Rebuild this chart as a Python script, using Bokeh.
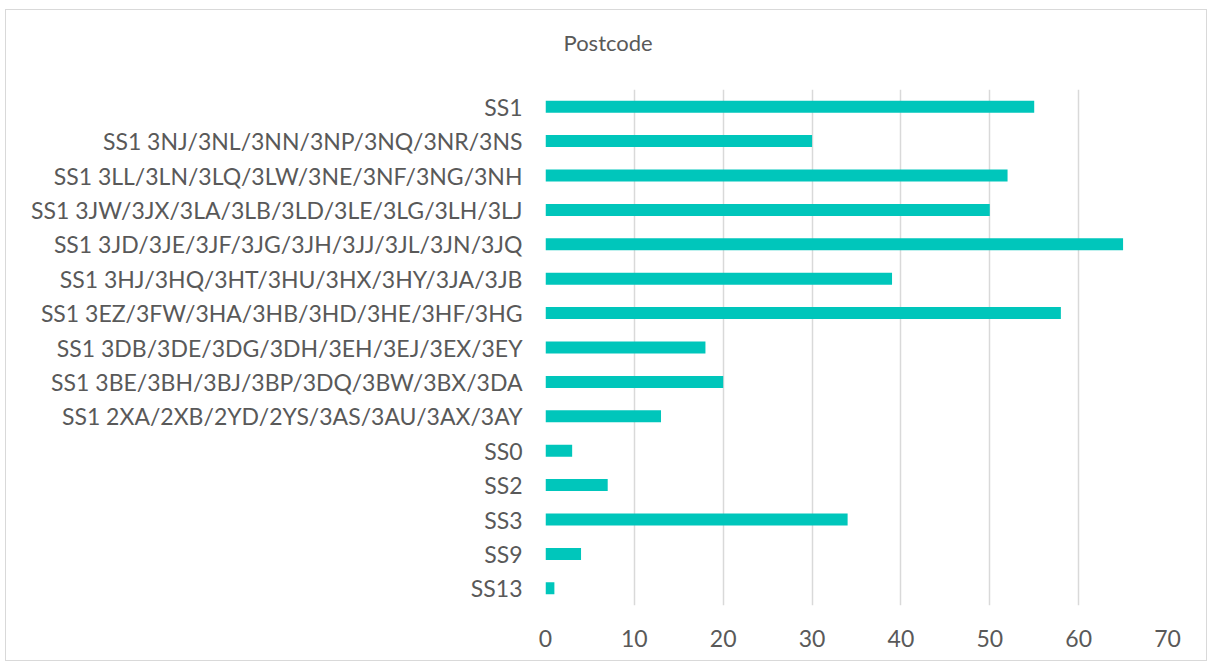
from bokeh.plotting import figure
from bokeh.models import ColumnDataSource, FactorRange, Range1d, FixedTicker, Title
from bokeh.embed import file_html
from bokeh.resources import INLINE

categories = [
    "SS1",
    "SS1 3NJ/3NL/3NN/3NP/3NQ/3NR/3NS",
    "SS1 3LL/3LN/3LQ/3LW/3NE/3NF/3NG/3NH",
    "SS1 3JW/3JX/3LA/3LB/3LD/3LE/3LG/3LH/3LJ",
    "SS1 3JD/3JE/3JF/3JG/3JH/3JJ/3JL/3JN/3JQ",
    "SS1 3HJ/3HQ/3HT/3HU/3HX/3HY/3JA/3JB",
    "SS1 3EZ/3FW/3HA/3HB/3HD/3HE/3HF/3HG",
    "SS1 3DB/3DE/3DG/3DH/3EH/3EJ/3EX/3EY",
    "SS1 3BE/3BH/3BJ/3BP/3DQ/3BW/3BX/3DA",
    "SS1 2XA/2XB/2YD/2YS/3AS/3AU/3AX/3AY",
    "SS0",
    "SS2",
    "SS3",
    "SS9",
    "SS13",
]
counts = [55, 30, 52, 50, 65, 39, 58, 18, 20, 13, 3, 7, 34, 4, 1]
x_ticks = [0, 10, 20, 30, 40, 50, 60, 70]
title_text = "Postcode"

FONT = "Lato"
TEXT_COLOR = "#595959"
BAR_COLOR = "#00C6BB"
GRID_COLOR = "#D9D9D9"

source = ColumnDataSource(data=dict(cat=categories, val=counts))

p = figure(
    width=1202,
    height=652,
    y_range=FactorRange(factors=list(reversed(categories)), range_padding=0),
    x_range=Range1d(0, 70),
    output_backend="svg",
    toolbar_location=None,
    min_border_left=539,
    min_border_right=41,
    min_border_top=79,
    min_border_bottom=57,
)
p.styles = {"border": "1px solid #D9D9D9", "margin-left": "5px", "margin-top": "9px"}

p.hbar(y="cat", right="val", left=0, height=0.35, source=source,
       fill_color=BAR_COLOR, line_color=None)

# spacer panel between frame and title, then the title itself
p.add_layout(Title(text=" ", text_font_size="12px", standoff=18), "above")
p.add_layout(Title(text=title_text, align="left", offset=18, standoff=0,
                   text_font=FONT, text_font_size="22px", text_font_style="normal",
                   text_color=TEXT_COLOR), "above")

p.outline_line_color = None
p.background_fill_color = "white"
p.border_fill_color = "white"

p.xaxis.ticker = FixedTicker(ticks=x_ticks)
p.xgrid.ticker = FixedTicker(ticks=x_ticks)
p.xgrid.grid_line_color = GRID_COLOR
p.xgrid.grid_line_width = 1.5
p.ygrid.grid_line_color = None

for ax in (p.xaxis, p.yaxis):
    ax.axis_line_color = None
    ax.major_tick_line_color = None
    ax.minor_tick_line_color = None
    ax.major_label_text_font = FONT
    ax.major_label_text_font_size = "23px"
    ax.major_label_text_color = TEXT_COLOR

p.xaxis.major_label_standoff = 18
p.yaxis.major_label_standoff = 17

open("out.html", "w").write(file_html(p, INLINE))
